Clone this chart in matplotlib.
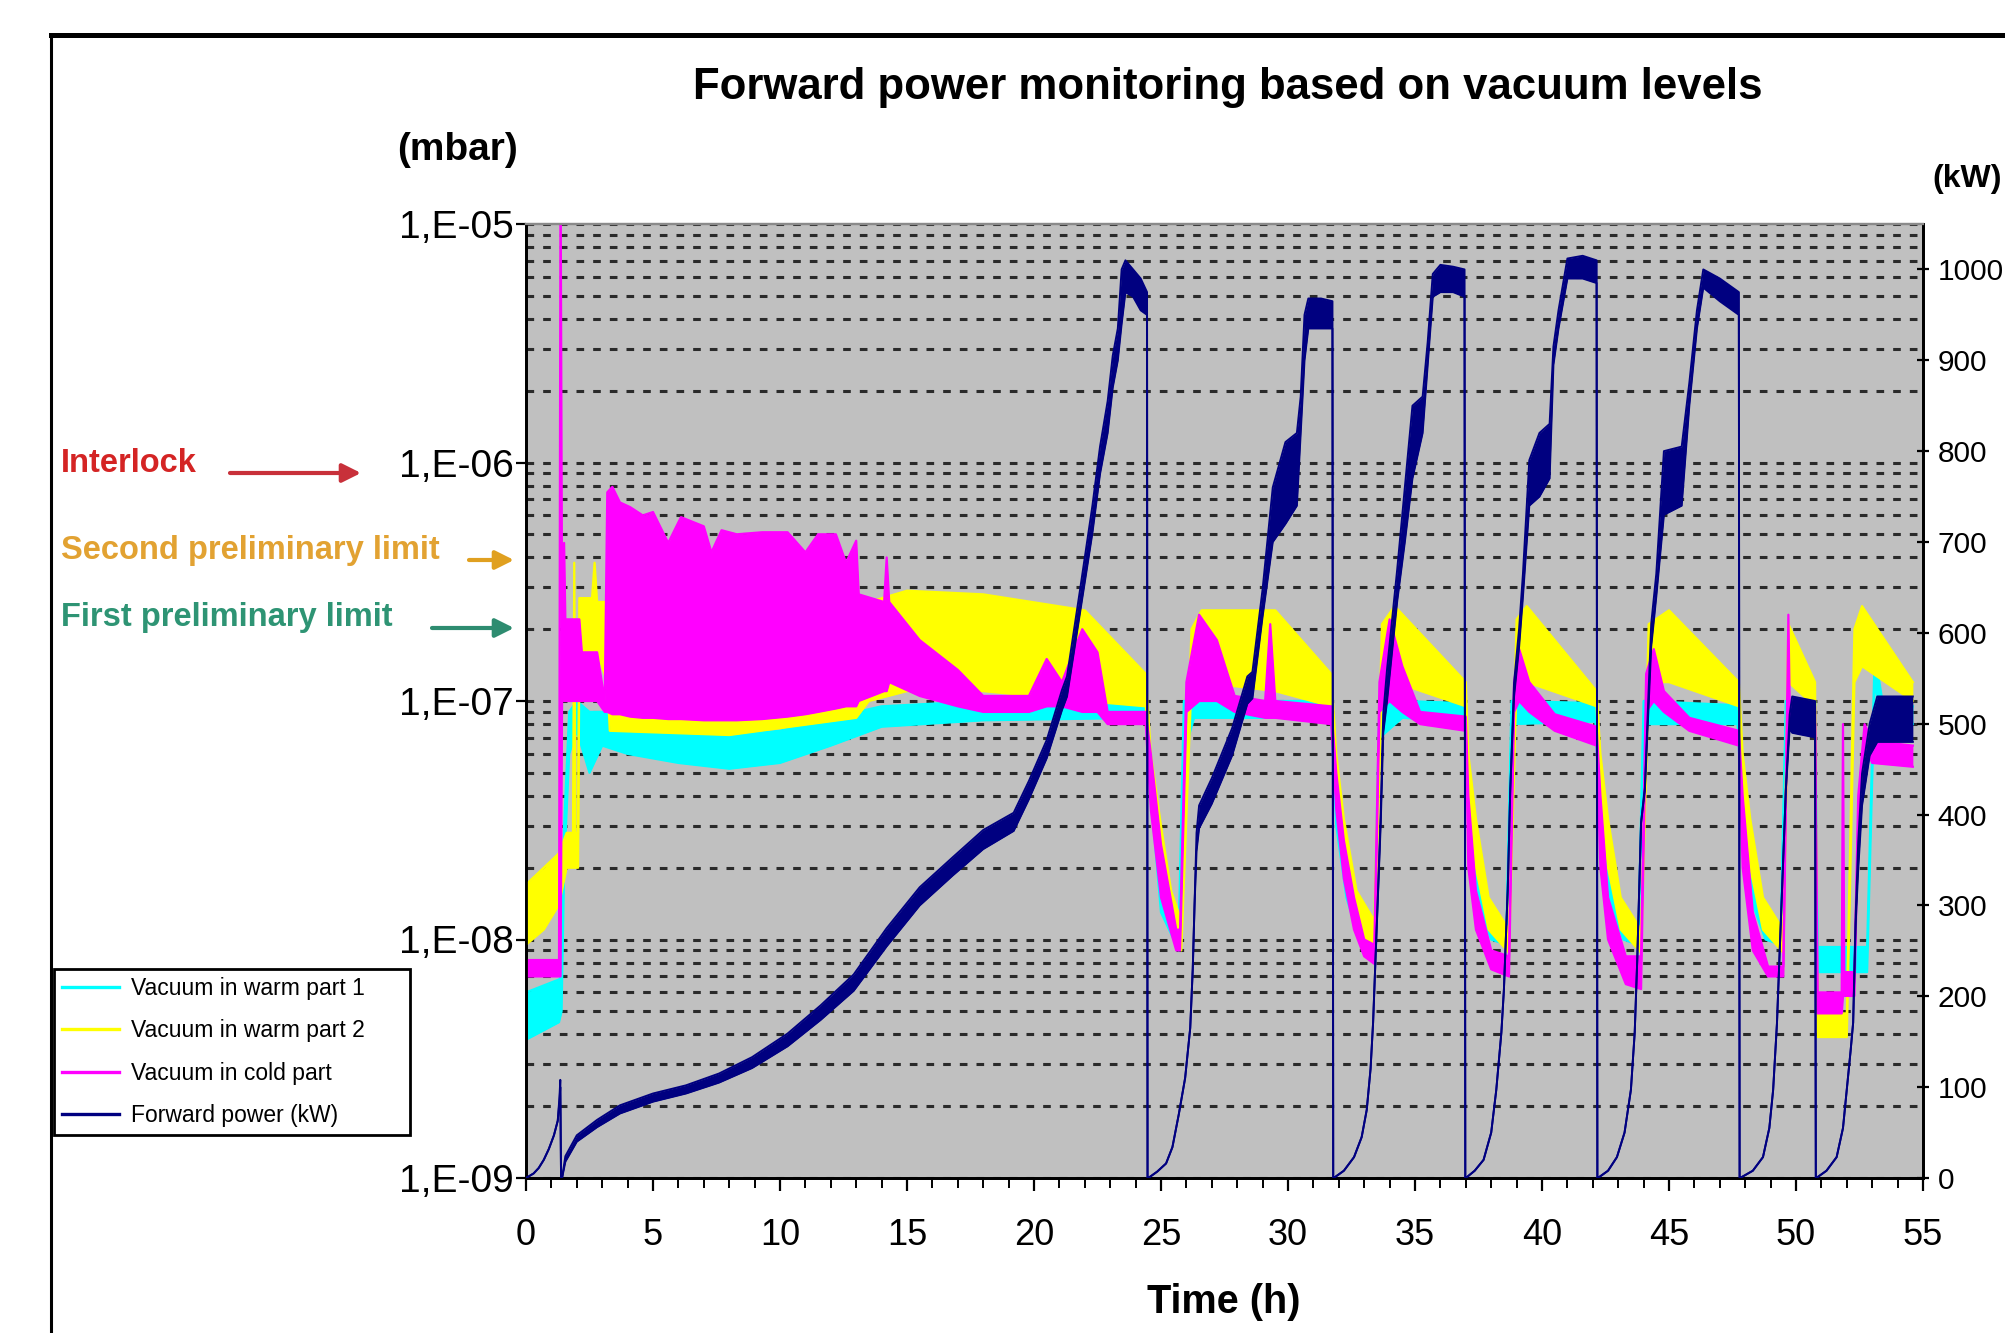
import numpy as np
import matplotlib
matplotlib.use("Agg")
import matplotlib.pyplot as plt
from matplotlib.lines import Line2D
from matplotlib.ticker import FixedLocator, LogLocator, NullFormatter

plt.rcParams['font.family'] = ['Liberation Sans', 'DejaVu Sans']
plt.rcParams['lines.scale_dashes'] = False

# ==============================
# Data: rows of (time h, lower edge, upper edge)
# ==============================
warm1_rows = [
    (0.0, 3.8e-9, 6.0e-9), (1.3, 4.5e-9, 6.8e-9), (1.4, 5e-9, 7e-9), (1.5, 2e-8, 3e-8),
    (1.7, 6e-8, 9e-8), (2.0, 7.5e-8, 1.0e-7), (2.5, 5e-8, 9e-8), (3.0, 6.5e-8, 9e-8),
    (4.0, 6e-8, 8e-8), (6.0, 5.5e-8, 7.5e-8), (8.0, 5.2e-8, 7.2e-8), (10.0, 5.5e-8, 7.5e-8),
    (12.0, 6.5e-8, 8.5e-8), (14.0, 7.8e-8, 9.5e-8), (18.0, 8.3e-8, 1.0e-7), (24.4, 8.5e-8, 1.0e-7),
    (24.6, 4e-8, 6e-8), (25.0, 1.3e-8, 2e-8), (25.7, 9e-9, 1.1e-8), (25.9, 6e-8, 1e-7),
    (26.3, 8.5e-8, 1e-7), (31.7, 8.5e-8, 1.0e-7), (31.9, 3e-8, 5e-8), (32.3, 1.5e-8, 2.2e-8),
    (32.8, 1.0e-8, 1.3e-8), (33.4, 9e-9, 1.1e-8), (33.6, 7e-8, 1e-7), (34.5, 8.5e-8, 1.0e-7),
    (37.0, 8.2e-8, 9.8e-8), (37.1, 3e-8, 5e-8), (37.5, 1.4e-8, 2e-8), (38.0, 1.0e-8, 1.2e-8),
    (38.6, 9.5e-9, 1.1e-8), (38.8, 8e-8, 1e-7), (42.1, 8.2e-8, 9.8e-8), (42.3, 3e-8, 5e-8),
    (42.7, 1.4e-8, 2e-8), (43.2, 1.0e-8, 1.2e-8), (43.8, 9.5e-9, 1.1e-8), (44.0, 8e-8, 1e-7),
    (47.7, 8e-8, 9.6e-8), (47.9, 3e-8, 5e-8), (48.3, 1.4e-8, 2e-8), (48.8, 1.0e-8, 1.2e-8),
    (49.4, 9.5e-9, 1.1e-8), (49.6, 8.5e-8, 1e-7), (50.75, 8.5e-8, 1e-7), (50.85, 7.3e-9, 9.3e-9),
    (52.8, 7.3e-9, 9.3e-9), (53.1, 1.2e-7, 1.6e-7), (53.4, 8e-8, 1e-7), (54.6, 8e-8, 9.5e-8),
]

warm2_rows = [
    (0.0, 9.5e-9, 1.7e-8), (0.7, 1.1e-8, 2.0e-8), (1.3, 1.4e-8, 2.3e-8), (1.6, 2.0e-8, 2.8e-8),
    (1.85, 2.0e-8, 2.8e-8), (1.9, 2.0e-8, 3.8e-7), (1.95, 2.0e-8, 2.8e-8), (2.05, 2.0e-8, 2.8e-8),
    (2.1, 1.5e-7, 2.7e-7), (2.6, 1.6e-7, 2.7e-7), (2.7, 1.6e-7, 3.8e-7), (2.8, 1.6e-7, 2.6e-7),
    (3.2, 1.2e-7, 2.6e-7), (3.3, 7.5e-8, 1.5e-7), (8.0, 7.2e-8, 1.2e-7), (13.0, 8.5e-8, 1.8e-7),
    (13.5, 1.0e-7, 2.6e-7), (15.0, 1.1e-7, 2.9e-7), (18.0, 1.1e-7, 2.8e-7), (22.0, 1.0e-7, 2.4e-7),
    (24.4, 9.5e-8, 1.3e-7), (24.6, 4e-8, 6e-8), (25.0, 1.8e-8, 3e-8), (25.4, 1.1e-8, 1.6e-8),
    (25.8, 9e-9, 1.2e-8), (26.2, 1.2e-7, 2.0e-7), (26.6, 1.2e-7, 2.4e-7), (29.5, 1.1e-7, 2.4e-7),
    (31.7, 9.5e-8, 1.3e-7), (31.9, 4e-8, 6e-8), (32.2, 2.0e-8, 3.2e-8), (32.7, 1.1e-8, 1.6e-8),
    (33.4, 9e-9, 1.2e-8), (33.7, 1.2e-7, 2.1e-7), (34.2, 1.2e-7, 2.5e-7), (37.0, 9.5e-8, 1.2e-7),
    (37.1, 4e-8, 6e-8), (37.4, 2.0e-8, 3.2e-8), (37.9, 1.1e-8, 1.5e-8), (38.7, 8.8e-9, 1.1e-8),
    (39.0, 1.2e-7, 2.2e-7), (39.4, 1.2e-7, 2.5e-7), (42.15, 9.5e-8, 1.1e-7), (42.3, 4e-8, 6e-8),
    (42.6, 2.0e-8, 3.2e-8), (43.1, 1.1e-8, 1.5e-8), (43.9, 8.8e-9, 1.1e-8), (44.2, 1.2e-7, 2.1e-7),
    (45.0, 1.2e-7, 2.4e-7), (47.75, 9.5e-8, 1.2e-7), (47.9, 4e-8, 6e-8), (48.2, 2.0e-8, 3.2e-8),
    (48.7, 1.1e-8, 1.5e-8), (49.5, 8.8e-9, 1.1e-8), (49.7, 1.2e-7, 2.1e-7), (50.75, 9.5e-8, 1.2e-7),
    (50.85, 3.9e-9, 4.9e-9), (52.0, 3.9e-9, 4.9e-9), (52.3, 1.2e-7, 2.0e-7), (52.6, 1.4e-7, 2.5e-7),
    (54.6, 1.0e-7, 1.2e-7),
]

cold_rows = [
    (0.0, 7e-9, 8.2e-9), (1.3, 7e-9, 8.2e-9), (1.36, 7e-9, 2e-5), (1.42, 1.0e-7, 2.2e-7),
    (1.5, 1.0e-7, 4.6e-7), (1.55, 1.0e-7, 2.2e-7), (2.1, 1.0e-7, 2.2e-7), (2.2, 1.0e-7, 1.6e-7),
    (2.8, 1.0e-7, 1.6e-7), (3.1, 9e-8, 1.0e-7), (3.2, 9e-8, 7.5e-7), (3.4, 8.8e-8, 7.9e-7),
    (3.7, 8.8e-8, 6.8e-7), (4.1, 8.6e-8, 6.5e-7), (4.6, 8.5e-8, 6.0e-7), (5.0, 8.5e-8, 6.2e-7),
    (5.6, 8.4e-8, 4.6e-7), (6.1, 8.4e-8, 5.9e-7), (7.0, 8.3e-8, 5.4e-7), (7.3, 8.3e-8, 4.2e-7),
    (7.7, 8.3e-8, 5.2e-7), (8.3, 8.3e-8, 5.0e-7), (9.3, 8.4e-8, 5.1e-7), (10.3, 8.6e-8, 5.1e-7),
    (11.0, 8.8e-8, 4.2e-7), (11.5, 9e-8, 5.0e-7), (12.2, 9.3e-8, 5.0e-7), (12.6, 9.5e-8, 3.8e-7),
    (13.0, 9.5e-8, 4.7e-7), (13.1, 1.0e-7, 2.8e-7), (14.1, 1.1e-7, 2.6e-7), (14.2, 1.1e-7, 4e-7),
    (14.3, 1.2e-7, 2.6e-7), (15.5, 1.05e-7, 1.8e-7), (17.0, 9.5e-8, 1.35e-7), (18.0, 9e-8, 1.05e-7),
    (19.8, 9e-8, 1.05e-7), (20.5, 9.5e-8, 1.5e-7), (21.1, 9.5e-8, 1.2e-7), (21.9, 9e-8, 2.0e-7),
    (22.5, 9e-8, 1.6e-7), (22.9, 8e-8, 9e-8), (24.4, 8e-8, 9e-8), (24.6, 3.5e-8, 6e-8),
    (25.0, 1.5e-8, 2.5e-8), (25.6, 9e-9, 1.1e-8), (25.75, 9e-9, 1.1e-8), (26.0, 9e-8, 1.2e-7),
    (26.5, 1.0e-7, 2.3e-7), (27.2, 1.0e-7, 1.8e-7), (27.9, 9e-8, 1.05e-7), (29.1, 8.5e-8, 1.0e-7),
    (29.3, 8.5e-8, 2.1e-7), (29.5, 8.5e-8, 1.0e-7), (31.7, 8e-8, 9.5e-8), (31.9, 3.5e-8, 5e-8),
    (32.2, 1.8e-8, 2.6e-8), (32.6, 1.1e-8, 1.5e-8), (33.0, 8.5e-9, 1e-8), (33.4, 7.9e-9, 9.5e-9),
    (33.6, 9e-8, 1.2e-7), (34.0, 1.0e-7, 2.2e-7), (34.5, 9e-8, 1.4e-7), (35.2, 8e-8, 9e-8),
    (37.0, 7.5e-8, 8.6e-8), (37.1, 2e-8, 4e-8), (37.4, 1.1e-8, 1.6e-8), (38.0, 7.5e-9, 9e-9),
    (38.7, 7e-9, 8.5e-9), (38.9, 9e-8, 1.2e-7), (39.1, 1.0e-7, 1.65e-7), (39.5, 9e-8, 1.2e-7),
    (40.5, 7.5e-8, 8.8e-8), (42.15, 6.5e-8, 7.8e-8), (42.3, 2e-8, 4e-8), (42.6, 1e-8, 1.5e-8),
    (43.3, 6.5e-9, 8.5e-9), (43.9, 6.2e-9, 8.5e-9), (44.1, 9e-8, 1.3e-7), (44.4, 1.0e-7, 1.65e-7),
    (44.8, 9e-8, 1.1e-7), (45.8, 7.5e-8, 8.5e-8), (47.75, 6.5e-8, 7.5e-8), (47.9, 2e-8, 4e-8),
    (48.3, 9e-9, 1.3e-8), (48.9, 7e-9, 7.7e-9), (49.5, 7e-9, 7.7e-9), (49.65, 8e-8, 1e-7),
    (49.7, 8e-8, 2.3e-7), (49.75, 8e-8, 1e-7), (50.75, 8e-8, 9.5e-8), (50.85, 4.9e-9, 6e-9),
    (51.8, 4.9e-9, 6e-9), (51.85, 5.8e-9, 8e-8), (51.9, 5.8e-9, 7.3e-9), (52.3, 5.8e-9, 7.3e-9),
    (52.45, 3.3e-8, 4e-8), (52.7, 6.5e-8, 8e-8), (53.0, 5.5e-8, 6.8e-8), (54.6, 5.3e-8, 6.5e-8),
]

power_rows = [
    (0.0, 0, 0), (0.3, 5, 5), (0.5, 11, 11), (0.7, 20, 20), (0.9, 32, 32), (1.1, 47, 47),
    (1.25, 63, 63), (1.32, 85, 90), (1.35, 100, 108), (1.38, 0, 0),
    (1.42, 0, 0), (1.55, 18, 24), (2.0, 40, 47), (2.8, 56, 64), (3.7, 71, 80), (5.0, 84, 93),
    (6.3, 93, 102), (7.6, 105, 115), (8.9, 121, 133), (10.3, 145, 159), (11.6, 174, 190),
    (12.9, 206, 224), (14.2, 255, 275), (15.5, 300, 320), (16.8, 333, 353), (18.0, 362, 383),
    (19.2, 382, 402), (19.8, 417, 437), (20.5, 462, 482), (21.1, 515, 537), (21.3, 530, 552),
    (21.8, 620, 645), (22.3, 710, 740), (22.6, 775, 805), (22.9, 820, 855), (23.1, 870, 905),
    (23.3, 900, 935), (23.45, 940, 1000), (23.6, 975, 1010), (23.9, 970, 1000), (24.2, 955, 990),
    (24.45, 950, 975), (24.47, 0, 0),
    (24.5, 0, 0), (24.85, 7, 7), (25.2, 16, 16), (25.45, 34, 34), (25.7, 70, 70),
    (25.95, 110, 110), (26.15, 165, 165), (26.25, 230, 230), (26.32, 300, 300),
    (26.4, 360, 380), (26.5, 385, 410), (27.0, 412, 440), (27.8, 465, 495), (28.4, 522, 552),
    (28.6, 528, 557), (29.0, 618, 648), (29.4, 700, 760), (29.9, 720, 810), (30.35, 740, 820),
    (30.5, 820, 860), (30.65, 900, 950), (30.8, 935, 968), (31.3, 935, 968), (31.75, 935, 965),
    (31.78, 0, 0),
    (31.8, 0, 0), (32.2, 8, 8), (32.6, 23, 23), (32.9, 45, 45), (33.1, 75, 75), (33.25, 120, 120),
    (33.35, 171, 171), (33.45, 245, 245), (33.55, 317, 320), (33.65, 390, 400), (33.75, 490, 510),
    (33.9, 525, 560), (34.3, 635, 670), (34.6, 700, 760), (34.9, 770, 850), (35.3, 820, 860),
    (35.5, 895, 920), (35.7, 970, 995), (36.0, 975, 1005), (36.5, 975, 1003), (36.95, 970, 1000),
    (36.98, 0, 0),
    (37.0, 0, 0), (37.35, 8, 8), (37.7, 20, 20), (38.0, 50, 50), (38.2, 97, 97), (38.4, 160, 160),
    (38.5, 207, 207), (38.65, 317, 317), (38.75, 427, 427), (38.9, 530, 545), (39.1, 585, 605),
    (39.25, 640, 665), (39.5, 740, 790), (39.9, 750, 820), (40.3, 770, 830), (40.45, 895, 915),
    (40.65, 935, 955), (41.0, 990, 1012), (41.6, 990, 1015), (42.15, 985, 1010), (42.18, 0, 0),
    (42.2, 0, 0), (42.6, 8, 8), (42.95, 23, 23), (43.25, 50, 50), (43.5, 97, 97), (43.65, 160, 160),
    (43.75, 240, 240), (43.9, 391, 391), (44.05, 427, 430), (44.3, 585, 610), (44.5, 640, 665),
    (44.8, 730, 800), (45.5, 740, 805), (45.8, 850, 875), (46.1, 935, 955), (46.35, 980, 1000),
    (47.0, 965, 990), (47.75, 950, 975), (47.78, 0, 0),
    (47.8, 0, 0), (48.3, 8, 8), (48.7, 23, 23), (48.95, 55, 55), (49.1, 97, 97), (49.25, 170, 170),
    (49.35, 243, 243), (49.5, 353, 353), (49.6, 427, 427), (49.75, 495, 510), (49.85, 490, 530),
    (50.75, 485, 525), (50.78, 0, 0),
    (50.8, 0, 0), (51.2, 8, 8), (51.6, 23, 23), (51.85, 55, 55), (52.0, 97, 97), (52.15, 140, 140),
    (52.25, 171, 171), (52.35, 280, 290), (52.45, 340, 370), (52.6, 410, 445), (52.9, 465, 500),
    (53.2, 480, 530), (54.6, 480, 530),
]

series_names = ["Vacuum in warm part 1", "Vacuum in warm part 2",
                "Vacuum in cold part", "Forward power (kW)"]
series_colors = ["#00FFFF", "#FFFF00", "#FF00FF", "#000080"]

vac_ticks = [1e-9, 1e-8, 1e-7, 1e-6, 1e-5]
vac_tick_labels = ["1,E-09", "1,E-08", "1,E-07", "1,E-06", "1,E-05"]
power_ticks = [0, 100, 200, 300, 400, 500, 600, 700, 800, 900, 1000]
time_ticks = [0, 5, 10, 15, 20, 25, 30, 35, 40, 45, 50, 55]

limit_labels = ["Interlock", "Second preliminary limit", "First preliminary limit"]
limit_colors = ["#D42424", "#E2A232", "#2E9474"]
arrow_colors = ["#C8303A", "#E0A020", "#2E8C70"]

# ==============================
# Figure layout (pixel helpers)
# ==============================
W, H = 2006, 1333
fig = plt.figure(figsize=(W / 100, H / 100), dpi=100)
fig.patch.set_facecolor("white")


def fx(px):
    return px / W


def fy(py):
    return 1 - py / H


ax = fig.add_axes([fx(526), fy(1178), fx(1923) - fx(526), fy(224) - fy(1178)])
ax.set_facecolor("#C0C0C0")
ax.set_yscale("log")
ax.set_xlim(0, 55)
ax.set_ylim(1e-9, 1e-5)

ax2 = ax.twinx()
ax2.set_ylim(0, 1050)


def band(axis, rows, color, z, lw=1.6):
    t, lo, hi = np.array(rows, dtype=float).T
    axis.fill_between(t, lo, hi, color=color, lw=0, zorder=z)
    axis.plot(t, lo, color=color, lw=lw, zorder=z)
    axis.plot(t, hi, color=color, lw=lw, zorder=z)


band(ax, warm1_rows, series_colors[0], 2)
band(ax, warm2_rows, series_colors[1], 3)
band(ax, cold_rows, series_colors[2], 4)
band(ax2, power_rows, series_colors[3], 5, lw=1.4)

# grid: dashed lines at every log step
ax.yaxis.set_major_locator(FixedLocator(vac_ticks))
ax.yaxis.set_minor_locator(LogLocator(base=10, subs=[2, 3, 4, 5, 6, 7, 8, 9]))
ax.yaxis.set_minor_formatter(NullFormatter())
ax.set_yticklabels(vac_tick_labels)
ax.set_axisbelow(True)
ax.grid(which="both", axis="y", color="#2a2a2a", lw=2.2, linestyle=(0, (5.5, 6.5)))

ax.xaxis.set_major_locator(FixedLocator(time_ticks))
ax.xaxis.set_minor_locator(FixedLocator(np.arange(0, 56, 1)))
ax.tick_params(axis="x", which="major", direction="out", length=9, width=1.6,
               pad=20, labelsize=26)
ax.tick_params(axis="x", which="minor", direction="out", length=7, width=1.4)
ax.tick_params(axis="y", which="major", direction="out", length=7, width=1.6,
               pad=2, labelsize=28)
ax.tick_params(axis="y", which="minor", length=0)

ax2.set_yticks(power_ticks)
ax2.set_yticklabels([str(v) for v in power_ticks])
ax2.tick_params(axis="y", direction="inout", length=9, width=1.6, pad=6, labelsize=21.5)

for a in (ax, ax2):
    a.spines["top"].set_color("#8a8a8a")
    a.spines["top"].set_linewidth(1.6)
    a.spines["left"].set_linewidth(2)
    a.spines["bottom"].set_linewidth(2)
    a.spines["right"].set_linewidth(2)

# ==============================
# Texts
# ==============================
fig.text(fx(1228), fy(87), "Forward power monitoring based on vacuum levels",
         ha="center", va="center", fontsize=31.5, weight="bold")
fig.text(fx(458), fy(150), "(mbar)", ha="center", va="center", fontsize=28, weight="bold")
fig.text(fx(1932), fy(179), "(kW)", ha="left", va="center", fontsize=23, weight="bold")
fig.text(fx(1224), fy(1302), "Time (h)", ha="center", va="center", fontsize=28.5,
         weight="bold")

label_y = [463, 550, 618]
arrow_x = [(230, 361), (469, 514), (432, 514)]
arrow_y = [473, 560, 628]
for name, col, acol, ly, (x0, x1), ay in zip(limit_labels, limit_colors, arrow_colors,
                                              label_y, arrow_x, arrow_y):
    fig.text(fx(61), fy(ly), name, color=col, ha="left", va="center",
             fontsize=23.5, weight="bold")
    ax.annotate("", xy=(fx(x1), fy(ay)), xytext=(fx(x0), fy(ay)),
                xycoords="figure fraction", textcoords="figure fraction",
                arrowprops=dict(arrowstyle="-|>", color=acol, lw=3,
                                mutation_scale=28, shrinkA=0, shrinkB=0))

# ==============================
# Legend
# ==============================
handles = [Line2D([0], [0], color=c, lw=2.4) for c in series_colors]
leg = fig.legend(handles, series_names, loc="upper left",
                 bbox_to_anchor=(fx(54), fy(1153), fx(410) - fx(54), fy(969) - fy(1153)),
                 mode="expand", frameon=True, fancybox=False, framealpha=1,
                 edgecolor="black", fontsize=16.5, handlelength=2.5, handletextpad=0.5,
                 labelspacing=0.85, borderpad=0.35, borderaxespad=0)
leg.get_frame().set_linewidth(2)

# outer frame of the chart area (cut by the image border)
fig.add_artist(Line2D([fx(51), 1.0], [fy(35), fy(35)], color="black", lw=3.6))
fig.add_artist(Line2D([fx(51), fx(51)], [fy(35), 0.0], color="black", lw=2.2))

fig.savefig("out.png", dpi=100)
